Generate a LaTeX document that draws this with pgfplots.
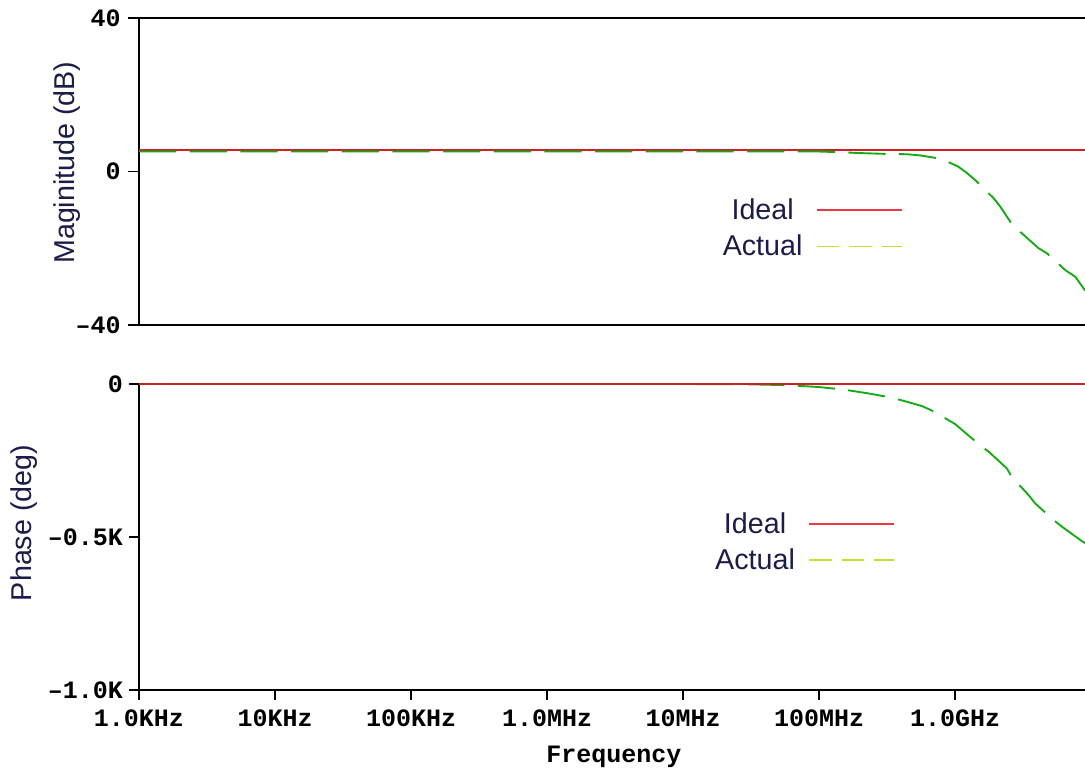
\documentclass[border=0pt]{standalone}
\usepackage{fontspec}
\setmainfont{Liberation Sans}
\newfontfamily\tickfont{Liberation Mono}
\usepackage{pgfplots}
\pgfplotsset{compat=1.18}

\definecolor{idealred}{RGB}{208,32,36}
\definecolor{legred}{RGB}{238,56,70}
\definecolor{actgreen}{RGB}{20,170,20}
\definecolor{leggreen}{RGB}{188,228,40}
\definecolor{labelnavy}{RGB}{28,28,72}

% magnitude response (Hz, dB)
\pgfplotstableread{
f        mag
1e3      5.2
1e6      5.2
1e8      5.2
1.5e8    5.0
2e8      4.8
3e8      4.6
4.4e8    4.5
5.5e8    4.2
7.3e8    3.5
8.7e8    2.6
1.05e9   1.3
1.22e9  -0.4
1.44e9  -2.6
1.91e9  -6.9
2.14e9  -9.1
2.69e9  -14.4
3.0e9   -15.7
4.1e9   -20.0
4.72e9  -21.3
6.44e9  -25.7
7.63e9  -27.4
9.0e9   -31.0
}\magdata

% phase response (Hz, deg)
\pgfplotstableread{
f        ph
1e3      0
1e7      0
3e7     -1
6e7     -4
1e8     -10
1.5e8   -18
2.25e8  -30
3e8     -40
3.94e8  -52
5.69e8  -72
6.76e8  -87
1e9     -131
1.12e9  -150
1.57e9  -205
1.76e9  -221
2.4e9   -276
2.6e9   -303
3.46e9  -363
3.87e9  -390
5.27e9  -444
6.08e9  -466
8.5e9   -513
9e9     -520
}\phdata

\newcommand{\tk}[1]{{\tickfont\bfseries\fontsize{18.75pt}{20pt}\selectfont #1}}
\newcommand{\lbl}{\fontsize{21.5pt}{24pt}\selectfont}

\tikzset{
  idealline/.style={idealred, line width=1.4pt},
  actualline/.style={actgreen, line width=1.4pt, dash pattern=on 28pt off 10pt},
}

\pgfplotsset{
  legend image code/.code={\draw[#1] (0pt,0pt) -- (64pt,0pt);},
}

\begin{document}
\begin{tikzpicture}

% magnitude
\begin{axis}[
  scale only axis, width=709.5pt, height=230.25pt,
  at={(104.25pt,333pt)}, anchor=south west,
  xmode=log, xmin=1e3, xmax=9e9,
  axis x line*=box, axis y line*=left,
  axis line style={black, line width=1.5pt},
  tick style={black, line width=1.3pt},
  tick align=outside, major tick length=8.25pt,
  xminorticks=false, yminorticks=false,
  ytick pos=left, clip=false,
  ymin=-40, ymax=40, ytick={-40,0,40},
  yticklabels={\tk{–40},\tk{0},\tk{40}},
  yticklabel style={xshift=-2pt},
  xtick=\empty,
  ylabel={Maginitude (dB)},
  ylabel style={at={(axis description cs:-0.0761,0.529)}, anchor=center, font=\lbl, text=labelnavy},
  legend plot pos=right,
  legend cell align=center,
  legend style={draw=none, fill=none, font=\lbl, text=labelnavy,
    anchor=north west, row sep=6pt, column sep=8pt, inner sep=0pt,
    at={(axis description cs:0.614,0.42)}},
]
\addplot[idealline, forget plot] coordinates {(1e3,5.6) (9e9,5.6)};
\addplot[actualline, forget plot] table[x=f, y=mag] {\magdata};
\addlegendimage{legred, line width=1.4pt}
\addlegendentry{Ideal}
\addlegendimage{leggreen, line width=1.4pt, dash pattern=on 17pt off 7.5pt}
\addlegendentry{Actual}
\end{axis}

% phase
\begin{axis}[
  scale only axis, width=709.5pt, height=229.5pt,
  at={(104.25pt,59.25pt)}, anchor=south west,
  xmode=log, xmin=1e3, xmax=9e9,
  axis x line*=box, axis y line*=left,
  axis line style={black, line width=1.5pt},
  tick style={black, line width=1.3pt},
  tick align=outside, major tick length=7.5pt,
  xminorticks=false, yminorticks=false,
  ytick pos=left, xtick pos=bottom, clip=false,
  ymin=-1000, ymax=0, ytick={-1000,-500,0},
  yticklabels={\tk{–1.0K},\tk{–0.5K},\tk{0}},
  yticklabel style={xshift=-1pt},
  xtick={1e3,1e4,1e5,1e6,1e7,1e8,1e9},
  xticklabels={\tk{1.0KHz},\tk{10KHz},\tk{100KHz},\tk{1.0MHz},\tk{10MHz},\tk{100MHz},\tk{1.0GHz}},
  xticklabel style={yshift=-3.5pt},
  ylabel={Phase (deg)},
  ylabel style={at={(axis description cs:-0.1216,0.546)}, anchor=center, font=\lbl, text=labelnavy},
  xlabel={\tk{Frequency}},
  xlabel style={at={(axis description cs:0.502,-0.22)}, anchor=center},
  legend plot pos=right,
  legend cell align=center,
  legend style={draw=none, fill=none, font=\lbl, text=labelnavy,
    anchor=north west, row sep=6pt, column sep=8pt, inner sep=0pt,
    at={(axis description cs:0.606,0.589)}},
]
\addplot[actualline, forget plot] table[x=f, y=ph] {\phdata};
\addplot[idealline, forget plot] coordinates {(1e3,0) (9e9,0)};
\addlegendimage{legred, line width=1.4pt}
\addlegendentry{Ideal}
\addlegendimage{leggreen, line width=1.4pt, dash pattern=on 17pt off 7.5pt}
\addlegendentry{Actual}
\end{axis}

\pgfresetboundingbox
\useasboundingbox (0,0) rectangle (813.75pt,576.75pt);
\end{tikzpicture}
\end{document}
